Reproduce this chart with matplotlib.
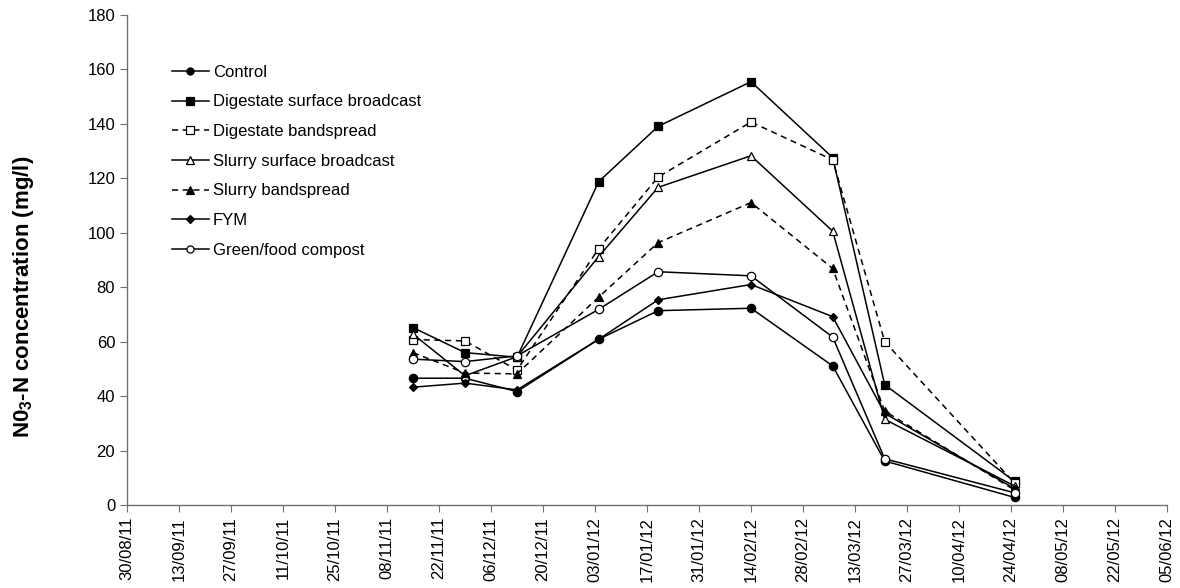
import matplotlib
matplotlib.use("Agg")
import matplotlib.pyplot as plt
import matplotlib.dates as mdates
import pandas as pd

plt.rcParams['font.family'] = ['Liberation Sans', 'DejaVu Sans']
plt.rcParams['mathtext.fontset'] = 'custom'
plt.rcParams['mathtext.rm'] = 'Liberation Sans:bold'
plt.rcParams['mathtext.default'] = 'rm'

dates = ['2011-11-15', '2011-11-29', '2011-12-13', '2012-01-04', '2012-01-20',
         '2012-02-14', '2012-03-07', '2012-03-21', '2012-04-25']

control = [46.6, 46.6, 41.7, 60.9, 71.4, 72.3, 51.1, 16.2, 2.8]
dig_surf = [65.2, 56.0, 54.3, 118.8, 139.1, 155.5, 127.6, 44.2, 8.7]
dig_band = [60.8, 60.3, 49.6, 94.2, 120.5, 140.7, 126.8, 60.0, 8.0]
slurry_surf = [62.8, 47.5, 54.5, 91.3, 116.7, 128.3, 100.6, 31.5, 7.0]
slurry_band = [56.0, 48.5, 48.2, 76.4, 96.4, 111.1, 86.9, 34.5, 5.5]
fym = [43.3, 44.8, 42.3, 60.9, 75.4, 81.0, 69.2, 33.7, 6.0]
compost = [53.6, 52.7, 54.8, 71.9, 85.7, 84.2, 61.7, 17.0, 4.5]

labels = ['Control', 'Digestate surface broadcast', 'Digestate bandspread',
          'Slurry surface broadcast', 'Slurry bandspread', 'FYM', 'Green/food compost']

x = pd.to_datetime(dates)
tick_dates = pd.date_range('2011-08-30', '2012-06-05', freq='14D')

fig = plt.figure(figsize=(11.8, 5.88), dpi=100)
ax = fig.add_axes([0.1076, 0.141, 0.8814, 0.8335])

dash = (0, (4, 3))
styles = [
    (control, 'o', 'black', '-', 6),
    (dig_surf, 's', 'black', '-', 6),
    (dig_band, 's', 'white', dash, 6),
    (slurry_surf, '^', 'white', '-', 6),
    (slurry_band, '^', 'black', dash, 6),
    (fym, 'D', 'black', '-', 4.5),
    (compost, 'o', 'white', '-', 6),
]
for (vals, m, fc, ls, ms), lab in zip(styles, labels):
    ax.plot(x, vals, linestyle=ls, color='black', linewidth=1.1, marker=m,
            markersize=ms, markerfacecolor=fc, markeredgecolor='black',
            markeredgewidth=0.9, label=lab)

ax.set_xlim(tick_dates[0], tick_dates[-1])
ax.set_ylim(0, 180)
ax.set_yticks(range(0, 181, 20))
ax.set_xticks(tick_dates)
ax.xaxis.set_major_formatter(mdates.DateFormatter('%d/%m/%y'))
ax.tick_params(axis='x', rotation=90, labelsize=12, length=5, color='#707070')
ax.tick_params(axis='y', labelsize=12, length=5, color='#707070')
for s in ['top', 'right']:
    ax.spines[s].set_visible(False)
for s in ['left', 'bottom']:
    ax.spines[s].set_color('#707070')
    ax.spines[s].set_linewidth(1.0)

ax.set_ylabel(r'N0$_{3}$-N concentration (mg/l)', fontsize=16, fontweight='bold')
ax.yaxis.set_label_coords(-0.087, 0.424)

leg = ax.legend(loc='upper left', bbox_to_anchor=(0.037, 0.912), frameon=False,
                fontsize=12, handlelength=2.2, handletextpad=0.25,
                labelspacing=0.88, markerscale=0.85, borderaxespad=0.0)

fig.savefig('out.png', dpi=100)
